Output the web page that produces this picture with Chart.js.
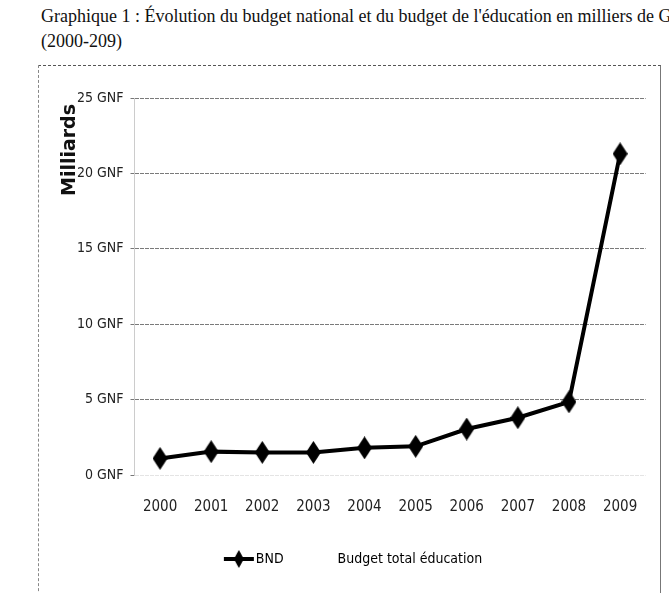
<!DOCTYPE html>
<html lang="fr">
<head>
<meta charset="utf-8">
<script src="https://cdn.jsdelivr.net/npm/chart.js@4"></script>
<style>
  html, body { margin: 0; padding: 0; background: #fff; overflow: hidden; width: 669px; height: 593px; }
  .title { position: absolute; left: 41px; font: 18px "Liberation Serif", "Times New Roman", serif; color: #111; white-space: nowrap; }
  #frame { position: absolute; left: 38px; top: 65px; width: 621px; height: 560px;
           border-top: 1px dashed #555; border-left: 1px dashed #888; border-right: 1px solid #777; }
  #chart { position: absolute; left: 0; top: 0; }
</style>
</head>
<body>
<div class="title" style="top:6px">Graphique 1 : Évolution du budget national et du budget de l'éducation en milliers de GNF</div>
<div class="title" style="top:31px">(2000-209)</div>
<div id="frame"><canvas id="chart" width="622" height="527"></canvas></div>
<script>
// Data (milliards GNF)
const years = ["2000", "2001", "2002", "2003", "2004", "2005", "2006", "2007", "2008", "2009"];
const bndValues = [1.1, 1.55, 1.5, 1.5, 1.8, 1.9, 3.05, 3.8, 4.85, 21.3];
const educationValues = [];
const yTicks = [0, 5, 10, 15, 20, 25];

const narrow = "'DejaVu Sans Condensed', 'Liberation Sans Narrow', sans-serif";

// elongated diamond marker
function diamond(w, h) {
  const c = document.createElement("canvas");
  c.width = w; c.height = h;
  const g = c.getContext("2d");
  g.beginPath();
  g.moveTo(w / 2, 0); g.lineTo(w, h / 2); g.lineTo(w / 2, h); g.lineTo(0, h / 2);
  g.closePath();
  g.fillStyle = "#000";
  g.fill();
  return c;
}

// legend icon: line with diamond in the middle, drawn in the right part
// of a wider canvas so the label sits close to it
function legendIcon() {
  const c = document.createElement("canvas");
  c.width = 46; c.height = 18;
  const g = c.getContext("2d");
  g.fillStyle = "#000";
  g.fillRect(15, 7, 30, 4);
  g.drawImage(diamond(10, 18), 25, 0);
  return c;
}

function blankIcon() {
  const c = document.createElement("canvas");
  c.width = 46; c.height = 18;
  return c;
}

const marker = diamond(15, 23);

// rotated "Milliards" axis label near the top of the axis
const axisLabel = {
  id: "axisLabel",
  afterDraw(chart) {
    const ctx = chart.ctx;
    ctx.save();
    ctx.translate(31, 84);
    ctx.rotate(-Math.PI / 2);
    ctx.font = "bold 19px 'DejaVu Sans', sans-serif";
    ctx.fillStyle = "#111";
    ctx.textAlign = "center";
    ctx.textBaseline = "middle";
    ctx.fillText("Milliards", 0, 0);
    ctx.restore();
  }
};

new Chart(document.getElementById("chart"), {
  type: "line",
  data: {
    labels: years,
    datasets: [
      {
        label: "BND",
        data: bndValues,
        borderColor: "#000",
        borderWidth: 4,
        pointStyle: marker,
        pointRadius: 8,
        tension: 0
      },
      {
        label: "Budget total éducation",
        data: educationValues,
        borderColor: "rgba(0,0,0,0)",
        pointRadius: 0
      }
    ]
  },
  options: {
    responsive: false,
    animation: false,
    layout: { padding: { top: 32, right: 15, bottom: 17, left: 12 } },
    plugins: {
      tooltip: { enabled: false },
      legend: {
        position: "bottom",
        labels: {
          usePointStyle: true,
          pointStyleWidth: 34,
          padding: 13,
          color: "#222",
          font: { family: narrow, size: 14 },
          generateLabels: (chart) => [
            { text: "BND", pointStyle: legendIcon(), fillStyle: "#000", strokeStyle: "#000", lineWidth: 0, hidden: false, datasetIndex: 0 },
            { text: "Budget total éducation", pointStyle: blankIcon(), fillStyle: "#fff", strokeStyle: "#fff", lineWidth: 0, hidden: false, datasetIndex: 1 }
          ]
        }
      }
    },
    scales: {
      x: {
        offset: true,
        grid: { display: false, drawTicks: false },
        border: { display: false },
        ticks: { color: "#222", padding: 23, font: { family: narrow, size: 15 } }
      },
      y: {
        min: 0,
        max: 25,
        afterFit: (s) => { s.width = 83.5; },
        afterBuildTicks: (s) => { s.ticks = yTicks.map(v => ({ value: v })); },
        grid: {
          color: (c) => c.tick && c.tick.value === 0 ? "#e4e4e4" : "#7a7a7a",
          lineWidth: 1,
          tickLength: 4,
          tickColor: "#777"
        },
        border: { display: true, color: "#ccc", dash: [4, 1] },
        ticks: {
          color: "#222",
          padding: 7,
          font: { family: narrow, size: 14 },
          callback: (v) => v + " GNF"
        }
      }
    }
  },
  plugins: [axisLabel]
});
</script>
</body>
</html>
